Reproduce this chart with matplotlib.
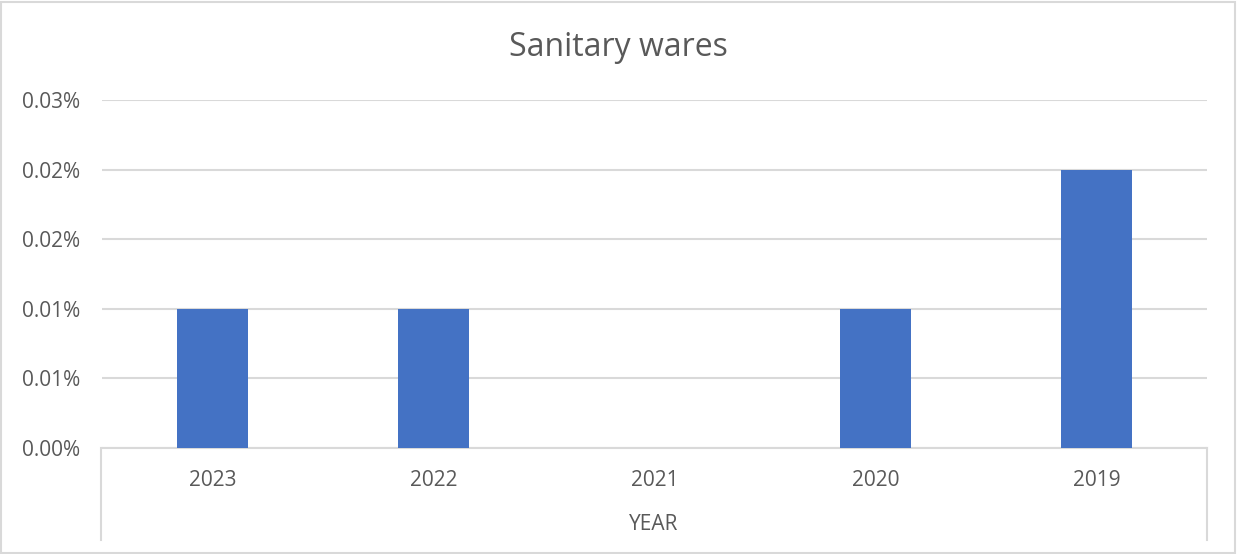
import matplotlib.pyplot as plt
from matplotlib.lines import Line2D

# sanitary wares share by year
years = ["2023", "2022", "2021", "2020", "2019"]
share = [0.0001, 0.0001, 0.0, 0.0001, 0.0002]
yticks = [0.0, 0.00005, 0.0001, 0.00015, 0.0002, 0.00025]
ytick_labels = ["0.00%", "0.01%", "0.01%", "0.02%", "0.02%", "0.03%"]

plt.rcParams['font.family'] = ['Open Sans', 'DejaVu Sans']
txt = '#595959'
grid = '#d9d9d9'

W, H = 1237, 554
fig = plt.figure(figsize=(W / 100, H / 100), dpi=100)
ax = fig.add_axes([102 / W, (H - 448) / H, 1105 / W, 348 / H])

x = range(len(years))
ax.bar(x, share, width=0.317, color='#4472c4', zorder=3)

ax.set_xlim(-0.5, len(years) - 0.5)
ax.set_ylim(0, 0.00025)
ax.set_yticks(yticks)
ax.set_yticklabels(ytick_labels, color=txt, fontsize=15)
ax.set_xticks(list(x))
ax.set_xticklabels(years, color=txt, fontsize=15)
ax.tick_params(length=0)
ax.tick_params(axis='y', pad=16)
ax.tick_params(axis='x', pad=16)
ax.yaxis.grid(True, color=grid, linewidth=1.5, zorder=0)

for side in ['top', 'right', 'left']:
    ax.spines[side].set_visible(False)
ax.spines['bottom'].set_color(grid)
ax.spines['bottom'].set_linewidth(1.5)

# category axis box edges
for px in (101, 1207):
    fig.add_artist(Line2D([px / W, px / W], [(H - 448) / H, (H - 540) / H],
                          color=grid, linewidth=1.5))

fig.text(654 / W, 1 - 524 / H, "YEAR", ha='center', va='center', color=txt, fontsize=15)
fig.text(618 / W, 1 - 48 / H, "Sanitary wares", ha='center', va='center', color=txt, fontsize=23)

# chart border
fig.add_artist(plt.Rectangle((1 / W, 1 / H), (W - 3) / W, (H - 3) / H, transform=fig.transFigure,
                             fill=False, edgecolor=grid, linewidth=1.5))

fig.savefig('out.png', dpi=100)
